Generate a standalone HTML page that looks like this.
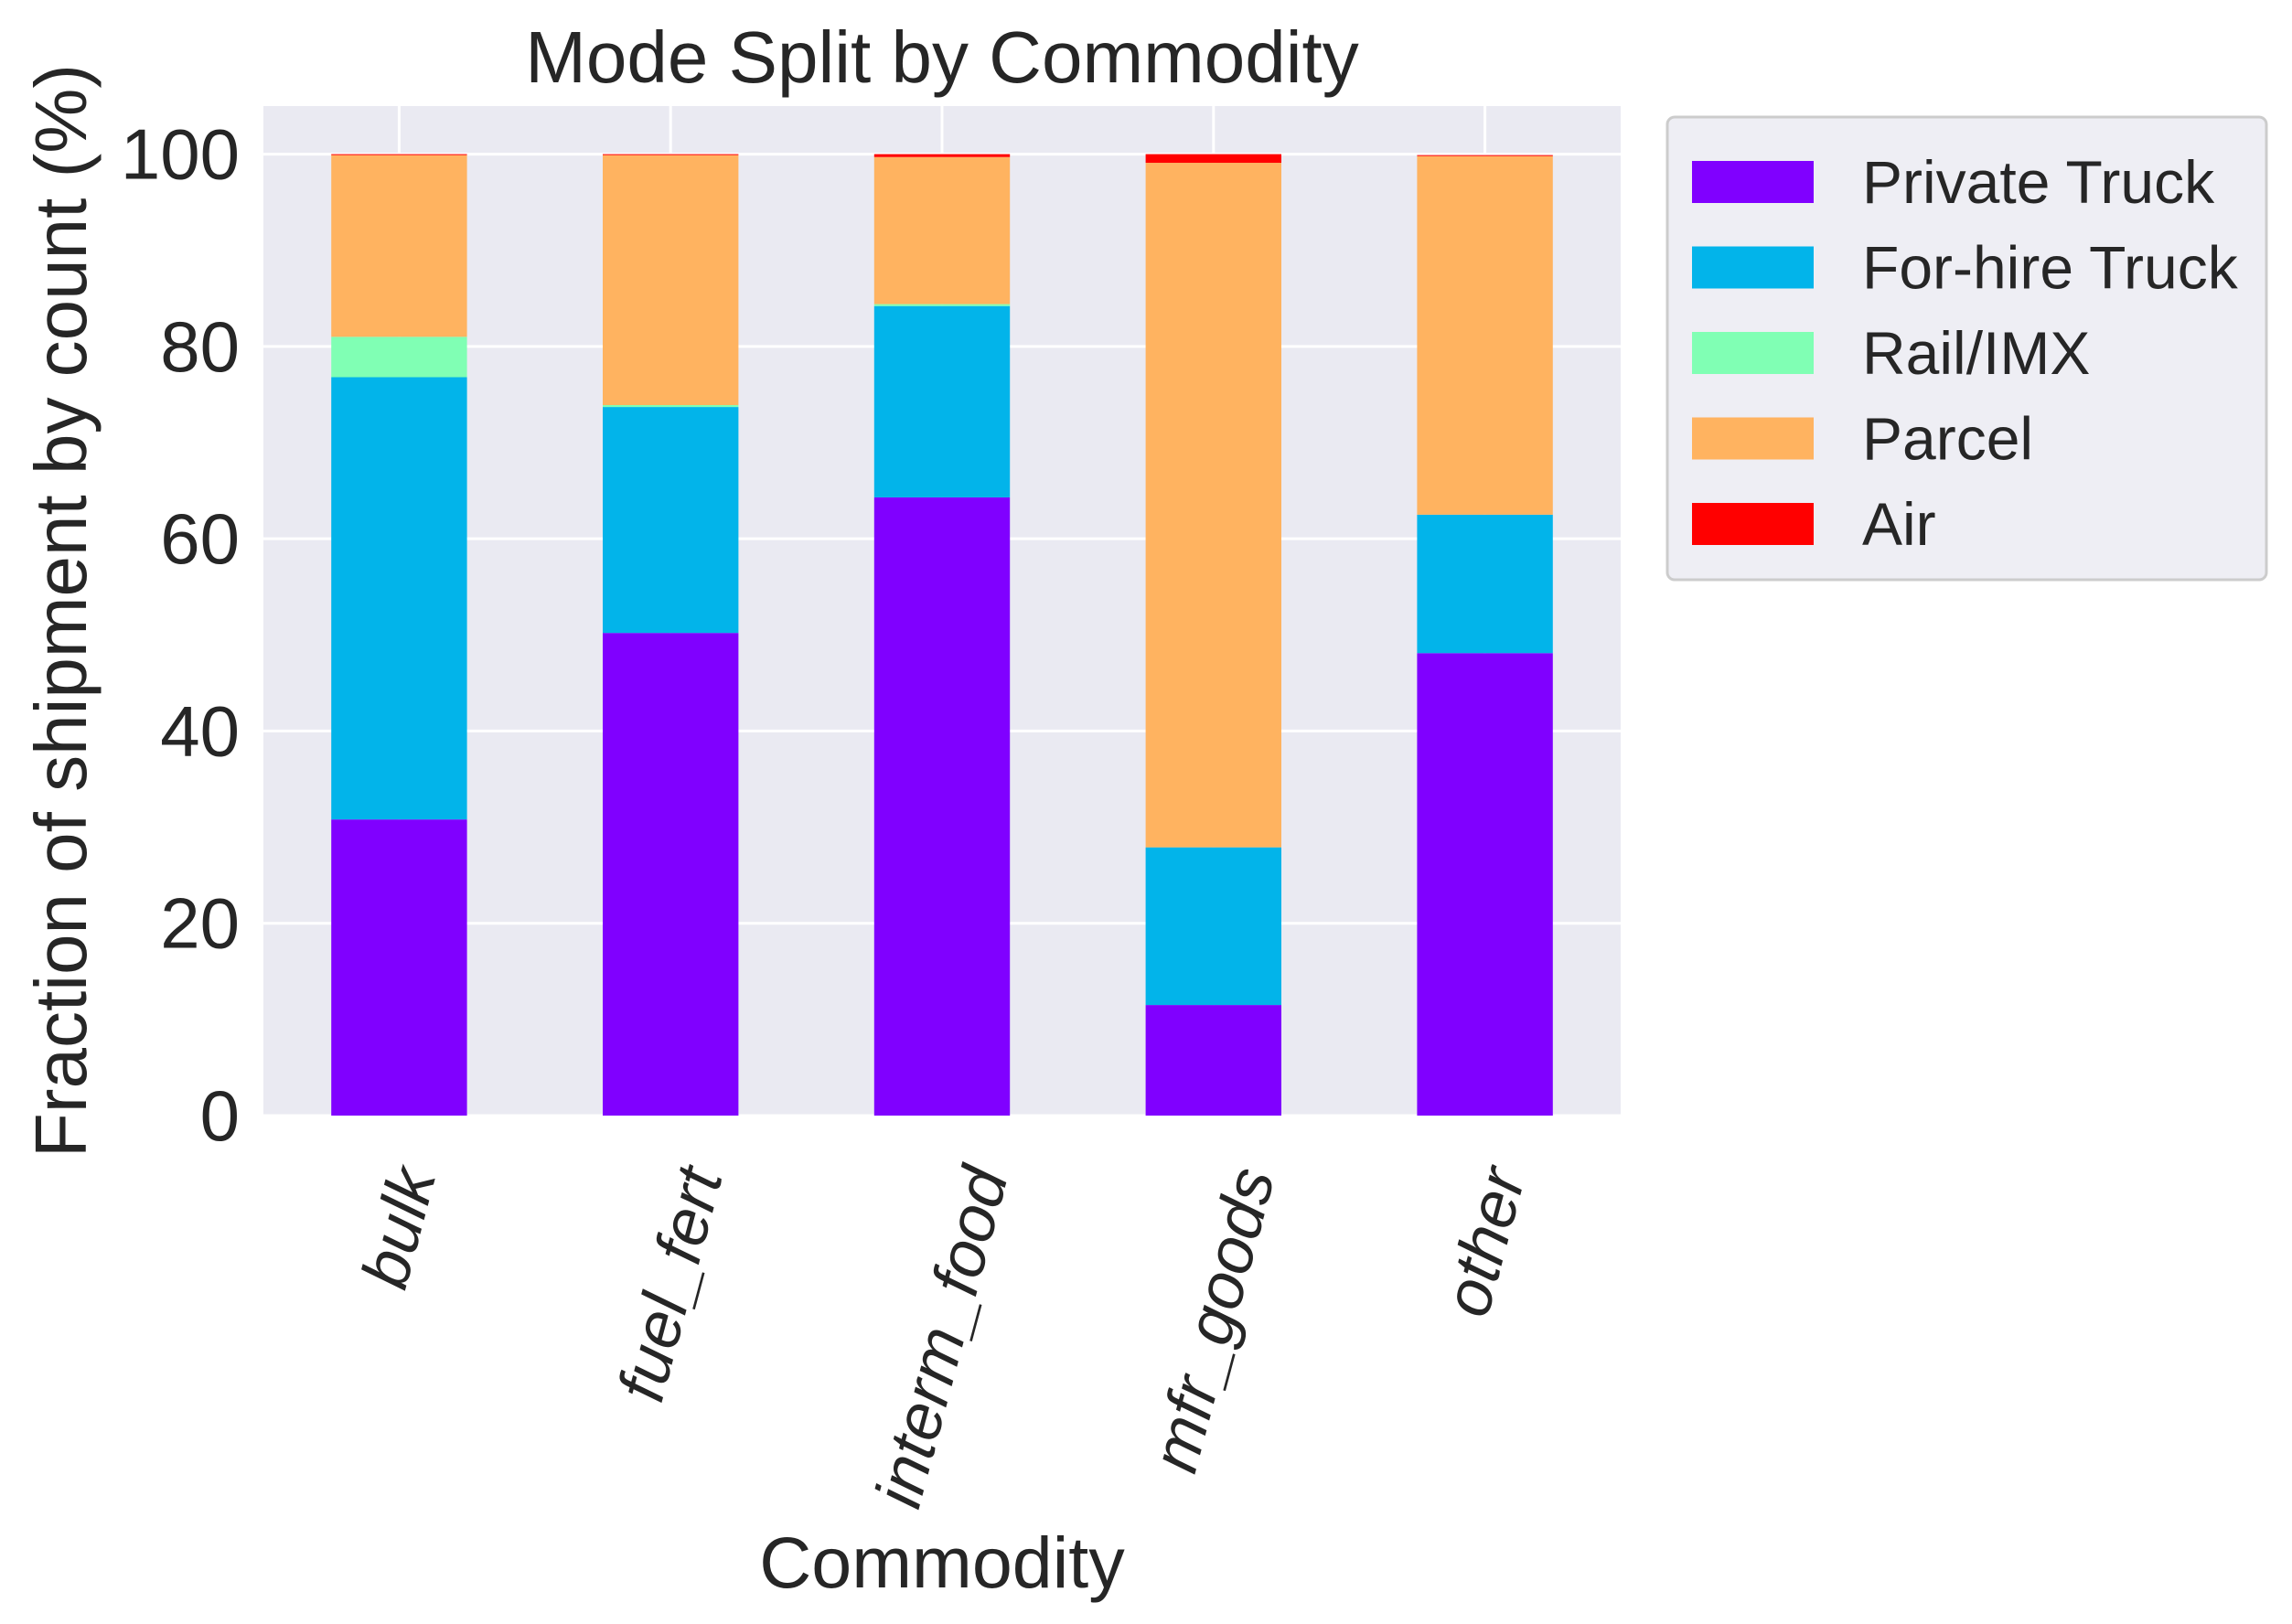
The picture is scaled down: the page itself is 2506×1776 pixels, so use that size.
<!DOCTYPE html>
<html><head><meta charset="utf-8"><style>
html,body{margin:0;padding:0;background:#fff;}
svg{display:block;font-family:"Liberation Sans",sans-serif;}
</style></head><body>
<svg id="chart" width="2506" height="1776" viewBox="0 0 2506 1776">
<rect x="0" y="0" width="2506" height="1776" fill="#fff"/>
<rect id="plotbg" x="288" y="116" width="1484" height="1104" fill="#eaeaf2"/>
<g id="grid"></g>
<g id="bars"></g>
<g id="yticks"></g>
<g id="xticks"></g>
<text x="1030" y="90" font-size="80" fill="#262626" text-anchor="middle">Mode Split by Commodity</text>
<text x="1030" y="1736" font-size="79" fill="#262626" text-anchor="middle">Commodity</text>
<text transform="translate(94,668) rotate(-90)" font-size="80" fill="#262626" text-anchor="middle">Fraction of shipment by count (%)</text>
<g id="legend">
<rect x="1831" y="128" width="655" height="506" rx="8" fill="#eeeef4" stroke="#cccccc" stroke-width="3"/>
</g>
</svg>
<script>
const categories = ["bulk","fuel_fert","interm_food","mfr_goods","other"];
const seriesNames = ["Private Truck","For-hire Truck","Rail/IMX","Parcel","Air"];
const privateTruck = [30.8, 50.2, 64.3, 11.5, 48.1];
const forHireTruck = [46.0, 23.5, 19.9, 16.4, 14.4];
const railImx = [4.2, 0.2, 0.2, 0.0, 0.0];
const parcel = [18.9, 26.0, 15.3, 71.2, 37.3];
const air = [0.1, 0.1, 0.3, 0.9, 0.1];
const yTicks = [0, 20, 40, 60, 80, 100];

const seriesColors = ["#8000ff","#02b4ea","#80ffb4","#ffb360","#ff0000"];
const series = [privateTruck, forHireTruck, railImx, parcel, air];
const NS = "http://www.w3.org/2000/svg";
const L = 288, R = 1772, T = 116, B = 1220;
const yMin = 0, yMax = 105;
const n = categories.length;
function xScale(i){ return L + (i + 0.5) * (R - L) / n; }
function yScale(v){ return B - (v - yMin) / (yMax - yMin) * (B - T); }
const bandW = (R - L) / n, barW = bandW * 0.5;
function mk(tag, attrs, parent){ const e = document.createElementNS(NS, tag); for (const k in attrs) e.setAttribute(k, attrs[k]); parent.appendChild(e); return e; }

const grid = document.getElementById('grid');
yTicks.forEach(t => {
  const l = mk('line', {x1:L, x2:R, y1:yScale(t), y2:yScale(t), stroke:'#fff', 'stroke-width':3}, grid);
  
  
});
categories.forEach((c, i) => {
  const l = mk('line', {x1:xScale(i), x2:xScale(i), y1:T, y2:B, stroke:'#fff', 'stroke-width':3}, grid);
  
  
});

const bars = document.getElementById('bars');
categories.forEach((c, i) => {
  let base = 0;
  series.forEach((s, k) => {
    const v = s[i];
    const y0 = yScale(base), y1 = yScale(base + v);
    const r = mk('rect', {x:xScale(i) - barW/2, y:y1, width:barW, height:Math.max(0, y0 - y1), fill:seriesColors[k]}, bars);
    
    
    base += v;
  });
});

const yt = document.getElementById('yticks');
yTicks.forEach(t => {
  const tx = mk('text', {x:262, y:yScale(t), 'font-size':78, fill:'#262626', 'text-anchor':'end', 'dominant-baseline':'central'}, yt);
  tx.textContent = t;
  
  
});

const xt = document.getElementById('xticks');
const ang = 75 * Math.PI / 180, fs = 72;
categories.forEach((c, i) => {
  const tx = mk('text', {'font-size':fs, fill:'#262626', 'font-style':'italic', 'text-anchor':'middle', 'dominant-baseline':'central'}, xt);
  tx.textContent = c;
  
  
  const len = tx.getComputedTextLength();
  const h = fs * 0.75;
  const cy = 1272 + (len * Math.sin(ang) + h * Math.cos(ang)) / 2;
  tx.setAttribute('transform', 'translate(' + xScale(i) + ',' + cy + ') rotate(-75)');
});

const lg = document.getElementById('legend');
lg.firstElementChild.setAttribute('x', 1823);
seriesNames.forEach((name, k) => {
  const cy = 199 + k * 93.5;
  const r = mk('rect', {x:1850, y:cy - 23, width:133, height:46, fill:seriesColors[k]}, lg);
  
  
  const t = mk('text', {x:2036, y:cy, 'font-size':66, fill:'#262626', 'dominant-baseline':'central'}, lg);
  t.textContent = name;
  
  
});
</script>
</body></html>
